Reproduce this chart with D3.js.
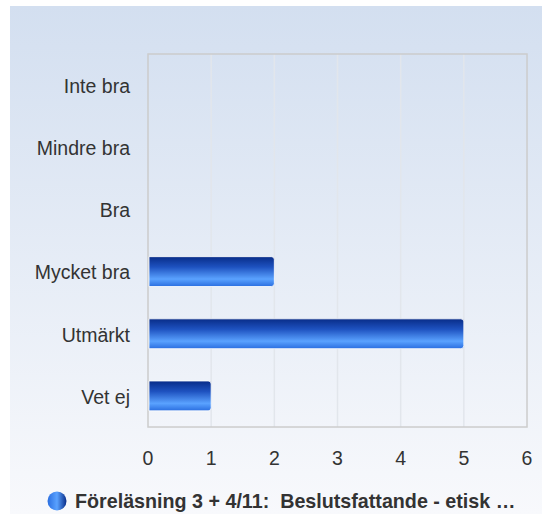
<!DOCTYPE html>
<html>
<head>
<meta charset="utf-8">
<script src="https://cdn.jsdelivr.net/npm/d3@7"></script>
<style>
  body { margin: 0; background: #fff; }
  text { font-family: "Liberation Sans", Arial, sans-serif; white-space: pre; }
</style>
</head>
<body>
<div id="chart"></div>
<script>
// Chart data
const categories = ["Inte bra", "Mindre bra", "Bra", "Mycket bra", "Utmärkt", "Vet ej"];
const values = [0, 0, 0, 2, 5, 1];
const xTicks = [0, 1, 2, 3, 4, 5, 6];
const seriesName = "Föreläsning 3 + 4/11:  Beslutsfattande - etisk …";

const width = 542, height = 514;
const plot = {left: 148, right: 527, top: 54, bottom: 427};

const svg = d3.select("#chart")
    .append("svg")
    .attr("width", width)
    .attr("height", height);

const defs = svg.append("defs");

// background gradient
const bg = defs.append("linearGradient")
    .attr("id", "bg").attr("x1", 0).attr("y1", 0).attr("x2", 0).attr("y2", 1);
bg.append("stop").attr("offset", "0%").attr("stop-color", "#d3dff0");
bg.append("stop").attr("offset", "100%").attr("stop-color", "#f8f9fc");

// bar gradient
const barGrad = defs.append("linearGradient")
    .attr("id", "barGrad").attr("x1", 0).attr("y1", 0).attr("x2", 0).attr("y2", 1);
barGrad.append("stop").attr("offset", "0%").attr("stop-color", "#082c88");
barGrad.append("stop").attr("offset", "35%").attr("stop-color", "#1e52c0");
barGrad.append("stop").attr("offset", "75%").attr("stop-color", "#5aa2ff");
barGrad.append("stop").attr("offset", "100%").attr("stop-color", "#2a6ee0");

// legend marker gradient
const legGrad = defs.append("linearGradient")
    .attr("id", "legGrad").attr("x1", 0).attr("y1", 0).attr("x2", 1).attr("y2", 0);
legGrad.append("stop").attr("offset", "0%").attr("stop-color", "#2a6ee0");
legGrad.append("stop").attr("offset", "50%").attr("stop-color", "#5aa2ff");
legGrad.append("stop").attr("offset", "100%").attr("stop-color", "#082c88");

svg.append("rect")
    .attr("x", 10).attr("y", 6)
    .attr("width", width - 10).attr("height", height - 6)
    .attr("fill", "url(#bg)");

const x = d3.scaleLinear()
    .domain([0, 6])
    .range([plot.left, plot.right]);

const y = d3.scaleBand()
    .domain(categories)
    .range([plot.top, plot.bottom])
    .paddingInner(0.52)
    .paddingOuter(0.26);

// grid lines
svg.append("g")
    .selectAll("line")
    .data(xTicks.slice(1, -1))
    .enter()
    .append("line")
    .attr("x1", d => x(d)).attr("x2", d => x(d))
    .attr("y1", plot.top).attr("y2", plot.bottom)
    .attr("stroke", "#e2e6ec")
    .attr("stroke-width", 1.5);

// plot frame
svg.append("rect")
    .attr("x", plot.left).attr("y", plot.top)
    .attr("width", plot.right - plot.left)
    .attr("height", plot.bottom - plot.top)
    .attr("fill", "none")
    .attr("stroke", "#cccccc")
    .attr("stroke-width", 1.5);

// bars
svg.append("g")
    .selectAll("path")
    .data(values.map((v, i) => ({cat: categories[i], v: v})).filter(d => d.v > 0))
    .enter()
    .append("path")
    .attr("d", function(d) {
        const x0 = x(0) + 1, x1 = x(d.v), y0 = y(d.cat), h = y.bandwidth(), r = 3;
        return "M" + x0 + "," + y0 + "H" + (x1 - r) + "Q" + x1 + "," + y0 + " " + x1 + "," + (y0 + r) +
            "V" + (y0 + h - r) + "Q" + x1 + "," + (y0 + h) + " " + (x1 - r) + "," + (y0 + h) +
            "H" + x0 + "Z";
    })
    .attr("fill", "url(#barGrad)")
    .attr("stroke", "#ffffff")
    .attr("stroke-opacity", 0.8)
    .attr("stroke-width", 1);

// category labels
svg.append("g")
    .selectAll("text")
    .data(categories)
    .enter()
    .append("text")
    .attr("x", 130)
    .attr("y", d => y(d) + y.bandwidth() / 2 + 1)
    .attr("dy", "0.35em")
    .attr("text-anchor", "end")
    .attr("font-size", 19.5)
    .attr("fill", "#333")
    .text(d => d);

// x tick labels
svg.append("g")
    .selectAll("text")
    .data(xTicks)
    .enter()
    .append("text")
    .attr("x", d => x(d))
    .attr("y", 465)
    .attr("text-anchor", "middle")
    .attr("font-size", 19.5)
    .attr("fill", "#333")
    .text(d => d);

// legend
svg.append("circle")
    .attr("cx", 57).attr("cy", 501).attr("r", 9.5)
    .attr("fill", "url(#legGrad)");

svg.append("text")
    .attr("x", 75)
    .attr("y", 508)
    .attr("font-size", 19.7)
    .attr("font-weight", "bold")
    .attr("fill", "#333")
    .text(seriesName);
</script>
</body>
</html>
